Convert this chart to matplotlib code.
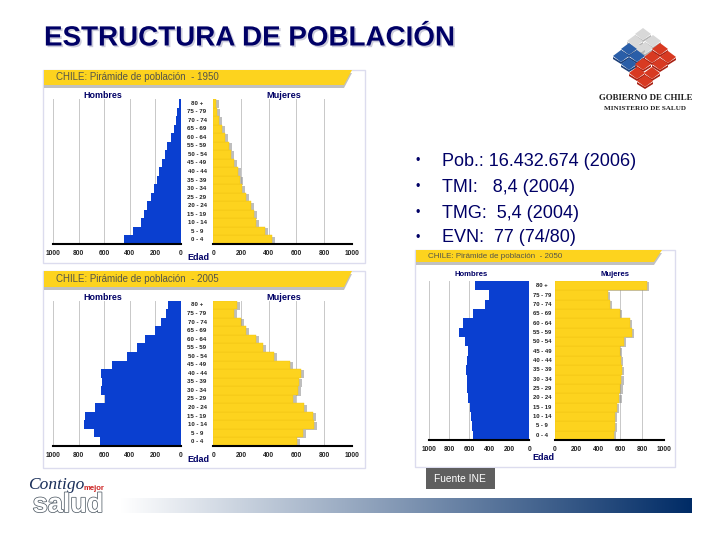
import matplotlib
matplotlib.use("Agg")
import matplotlib.pyplot as plt
import matplotlib.patheffects as pe
from matplotlib.patches import Polygon, Rectangle
import numpy as np

plt.rcParams["font.family"] = ["Liberation Sans", "DejaVu Sans"]

W, H = 720, 540
NAVY = "#000066"
BLUE = "#0a3fd0"
YELLOW = "#fdd31e"

# age groups, youngest first
ages = ["0 - 4", "5 - 9", "10 - 14", "15 - 19", "20 - 24", "25 - 29", "30 - 34", "35 - 39", "40 - 44",
        "45 - 49", "50 - 54", "55 - 59", "60 - 64", "65 - 69", "70 - 74", "75 - 79", "80 +"]

men_1950 = [442, 372, 314, 288, 262, 230, 209, 186, 173, 147, 126, 107, 76, 52, 37, 26, 16]
women_1950 = [422, 373, 308, 294, 270, 234, 210, 195, 176, 149, 130, 113, 84, 63, 41, 29, 19]
men_2005 = [633, 681, 757, 751, 673, 594, 626, 618, 628, 542, 424, 340, 280, 202, 157, 115, 97]
women_2005 = [602, 651, 728, 723, 655, 578, 614, 619, 631, 554, 441, 361, 308, 236, 198, 149, 169]
men_2050 = [567, 577, 583, 593, 610, 620, 627, 633, 623, 617, 643, 703, 663, 560, 440, 400, 543]
women_2050 = [541, 550, 550, 566, 590, 599, 609, 615, 605, 596, 633, 706, 688, 596, 505, 486, 844]

ticks = [0, 200, 400, 600, 800, 1000]
bullets = ["Pob.: 16.432.674 (2006)", "TMI:   8,4 (2004)", "TMG:  5,4 (2004)", "EVN:  77 (74/80)"]

fig = plt.figure(figsize=(7.2, 5.4), dpi=100)
bg = fig.add_axes([0, 0, 1, 1], zorder=0)
bg.set_xlim(0, W)
bg.set_ylim(H, 0)
bg.axis("off")


def px_axes(x0, y0, x1, y1):
    # axes from pixel box, y measured from the top
    ax = fig.add_axes([x0 / W, 1 - y1 / H, (x1 - x0) / W, (y1 - y0) / H], zorder=2)
    ax.patch.set_alpha(0)
    return ax


def pyramid(men, women, title, box, banner_y, lx, rx, top, base, fs=4.4, tfs=7.0, hfs=6.4, mfs=6.6,
            hx=0.39, mx=0.51, hy=3.5, ey=14):
    x0, y0, x1, y1 = box
    bg.add_patch(Rectangle((x0, y0), x1 - x0, y1 - y0, fc="white", ec="#dcdcee", lw=1))
    # banner with slanted end and shadow
    by0, by1 = banner_y
    bg.add_patch(Polygon([(x0 + 1, by0 + 3), (x1 - 13, by0 + 3), (x1 - 21, by1 + 3), (x0 + 1, by1 + 3)],
                         fc="#999999", ec="none", alpha=0.6))
    bg.add_patch(Polygon([(x0 + 1, by0), (x1 - 13, by0), (x1 - 21, by1), (x0 + 1, by1)], fc=YELLOW, ec="none"))
    bg.text(x0 + 13, (by0 + by1) / 2, title, fontsize=tfs, color="#55554a", va="center", ha="left", zorder=3)

    y = np.arange(len(ages))
    left = px_axes(lx[0], top, lx[1], base)
    left.barh(y, men, height=1.0, color=BLUE, zorder=3)
    left.set_xlim(1000, 0)
    right = px_axes(rx[0], top, rx[1], base)
    # soft shadow on the right side of the yellow bars
    right.barh(y - 0.12, np.array(women) + 22, height=0.95, color="#8a8a8a", alpha=0.55, zorder=2)
    right.barh(y, women, height=1.0, color=YELLOW, ec="#efc414", lw=0.3, zorder=3)
    right.set_xlim(0, 1000)

    for ax in (left, right):
        ax.set_ylim(-0.5, len(ages) - 0.5)
        ax.set_yticks([])
        ax.set_xticks(ticks)
        ax.set_xticklabels([str(t) for t in ticks], fontsize=4.8, color="#222222", fontweight="bold")
        ax.tick_params(axis="x", length=0, pad=4)
        ax.grid(axis="x", color="#c8c8c8", lw=0.7, zorder=0)
        for s in ("top", "left", "right"):
            ax.spines[s].set_visible(False)
        ax.spines["bottom"].set_linewidth(1.5)
        ax.spines["bottom"].set_color("black")
        ax.spines["bottom"].set_zorder(4)

    mid = (lx[1] + rx[0]) / 2
    step = (base - top) / len(ages)
    for i, a in enumerate(ages):
        bg.text(mid, base - (i + 0.5) * step, a, fontsize=fs, color="#222222", fontweight="bold",
                ha="center", va="center", zorder=3)
    bg.text(lx[0] + (lx[1] - lx[0]) * hx, top - hy, "Hombres", fontsize=hfs, color=NAVY, fontweight="bold",
            ha="center", va="center", zorder=3)
    bg.text(rx[0] + (rx[1] - rx[0]) * mx, top - hy, "Mujeres", fontsize=mfs, color=NAVY, fontweight="bold",
            ha="center", va="center", zorder=3)
    bg.text(mid + 1, base + ey, "Edad", fontsize=6.5, color=NAVY, fontweight="bold", ha="center", va="center", zorder=3)


pyramid(men_1950, women_1950, "CHILE: Pirámide de población  - 1950", (43, 70, 365, 263), (70, 85),
        (53.3, 180.7), (213.3, 351.7), 99, 244)
pyramid(men_2005, women_2005, "CHILE: Pirámide de población  - 2005", (43, 271, 365, 468), (271, 287),
        (53.3, 180.7), (213.3, 351.7), 300.7, 446)
pyramid(men_2050, women_2050, "CHILE: Pirámide de población  - 2050", (415, 250, 675, 467), (250, 262),
        (429.3, 529.3), (555, 664), 281, 440, fs=4.2, tfs=5.8, hfs=5.6, mfs=5.6, hx=0.42, mx=0.55, hy=7, ey=17)

# title with soft shadow
bg.text(44, 38.5, "ESTRUCTURA DE POBLACIÓN", fontsize=20, fontweight="bold", color=NAVY, va="center", ha="left",
        path_effects=[pe.withSimplePatchShadow(offset=(1.2, -1.2), shadow_rgbFace="#9a9ab8", alpha=0.5)], zorder=3)

# bullet list
for txt, yy in zip(bullets, [161, 187, 213, 238]):
    bg.text(418, yy, "•", fontsize=9, color=NAVY, ha="center", va="center", zorder=3)
    bg.text(442, yy, txt, fontsize=13, color=NAVY, ha="left", va="center", zorder=3)

# source box
bg.add_patch(Rectangle((426, 468), 69, 21, fc="#5f5f5f", ec="none", zorder=3))
bg.text(460, 478.5, "Fuente INE", fontsize=7.4, color="white", ha="center", va="center", zorder=4)


# government logo, little diamonds
def tiles(points, color, edge):
    for cx, cy in points:
        bg.add_patch(Polygon([(cx - 8, cy + 2), (cx, cy + 7), (cx + 8, cy + 2), (cx + 8, cy + 4), (cx, cy + 9), (cx - 8, cy + 4)],
                             fc=edge, ec="none", zorder=3))
        bg.add_patch(Polygon([(cx - 8, cy + 1), (cx, cy - 5), (cx + 8, cy + 1), (cx, cy + 7)], fc=color, ec="none", zorder=3))


tiles([(643, 33), (635, 40), (653, 40), (645, 47), (637, 48)], "#d8d8d8", "#b4b4b4")
tiles([(629, 48), (621, 55), (637, 55), (629, 63)], "#2a5ea8", "#1c3f78")
tiles([(660, 48), (668, 56), (652, 56), (660, 63), (643, 63), (652, 72), (637, 72), (645, 80)], "#d83a22", "#a82012")
bg.text(645.5, 98, "GOBIERNO DE CHILE", fontsize=6.4, family="Liberation Serif", fontweight="bold", color="#222222",
        ha="center", va="center", zorder=3)
bg.text(645, 108, "MINISTERIO DE SALUD", fontsize=5.1, family="Liberation Serif", fontweight="bold", color="#222222",
        ha="center", va="center", zorder=3)

# footer gradient band
grad = np.linspace(0, 1, 256)[None, :, None]
c0 = np.array([1.0, 1.0, 1.0])
c1 = np.array([0.0, 0.17, 0.40])
bg.imshow(c0 + (c1 - c0) * grad, extent=(120, 692, 513, 498), aspect="auto", zorder=1)
bg.set_xlim(0, W)
bg.set_ylim(H, 0)

# campaign logo
bg.text(28, 485, "Contigo", fontsize=12.5, style="italic", family="Liberation Serif", color="#1a2f5a",
        ha="left", va="center", zorder=3)
bg.text(83, 489, "mejor", fontsize=5.6, fontweight="bold", color="#cc2222", ha="left", va="center", zorder=3)
bg.text(68, 505, "salud", fontsize=19.5, fontweight="bold", color="white", ha="center", va="center", zorder=3,
        path_effects=[pe.withStroke(linewidth=1.1, foreground="#55606a")])

fig.savefig("out.png", dpi=100)
